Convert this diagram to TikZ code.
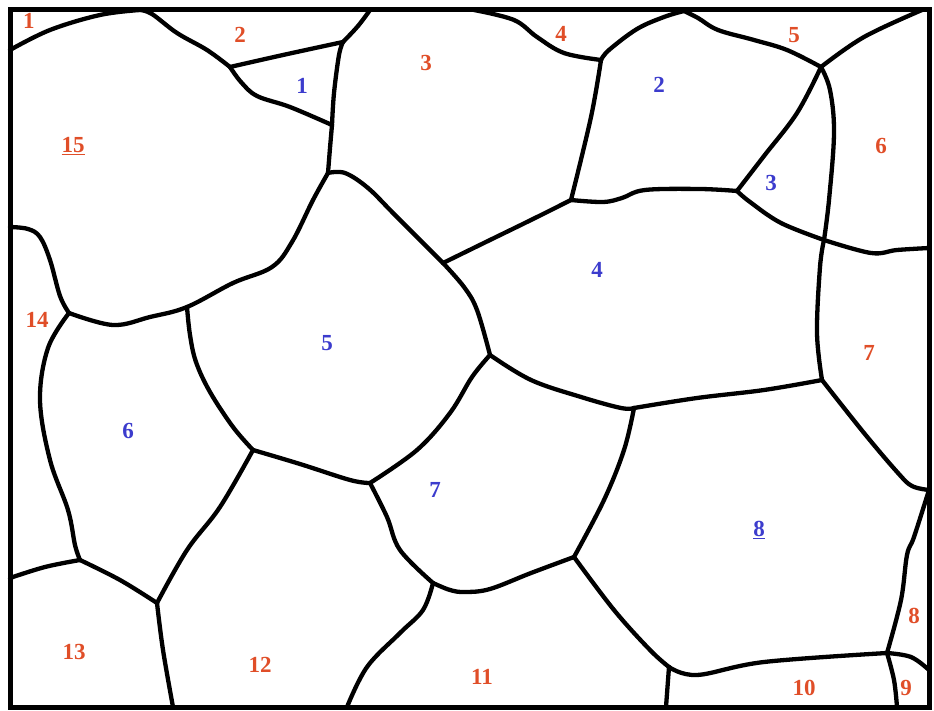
\documentclass[tikz,border=0pt]{standalone}
\usepackage{fontspec}
\setmainfont{Liberation Serif}
\definecolor{gred}{RGB}{224,78,40}
\definecolor{gblue}{RGB}{60,60,205}
\tikzset{
  gb/.style={line width=4.3pt, line join=round, line cap=round, black},
  frame/.style={line width=5pt, line join=miter, black},
  rlab/.style={text=gred, font=\fontsize{23}{23}\selectfont\bfseries, inner sep=0pt},
  blab/.style={text=gblue, font=\fontsize{23}{23}\selectfont\bfseries, inner sep=0pt},
  sm/.style={smooth, tension=0.6}
}
\begin{document}
\begin{tikzpicture}[x=1pt,y=-1pt]
\useasboundingbox (0,0) rectangle (934,711);
% junctions
\coordinate (L1) at (10,50);
\coordinate (J1) at (140,10);
\coordinate (J2) at (230,67);
\coordinate (J3) at (343,42);
\coordinate (J3t) at (370,10);
\coordinate (J4) at (332,125);
\coordinate (J5) at (328,173);
\coordinate (J6) at (69,313);
\coordinate (L14) at (10,227);
\coordinate (J7) at (443,263);
\coordinate (J8) at (571,200);
\coordinate (J9) at (601,60);
\coordinate (T4) at (474,10);
\coordinate (T5) at (684,11);
\coordinate (J10) at (821,67);
\coordinate (Ttr) at (922,10);
\coordinate (J11) at (737,191);
\coordinate (J12) at (824,240);
\coordinate (R1) at (929,248);
\coordinate (J13) at (490,355);
\coordinate (J14) at (634,408);
\coordinate (J15) at (822,380);
\coordinate (R2) at (929,490);
\coordinate (J16) at (887,653);
\coordinate (J17) at (574,557);
\coordinate (J18) at (669,667);
\coordinate (R3) at (929,670);
\coordinate (B9) at (897,707);
\coordinate (B10) at (666,707);
\coordinate (J19) at (187,307);
\coordinate (J20) at (253,450);
\coordinate (J21) at (157,603);
\coordinate (J22) at (80,560);
\coordinate (L13) at (10,578);
\coordinate (B12) at (173,707);
\coordinate (J23) at (370,483);
\coordinate (J24) at (433,583);
\coordinate (B11) at (347,707);
% boundaries
\draw[gb] plot[sm] coordinates {(L1) (50,30) (100,15) (J1)};
\draw[gb] plot[sm] coordinates {(J1) (152,14) (177,33) (207,50) (J2)};
\draw[gb] plot[sm] coordinates {(J2) (283,55) (J3)};
\draw[gb] plot[sm] coordinates {(J3) (358,26) (J3t)};
\draw[gb] plot[sm] coordinates {(J2) (241,82) (257,96) (290,107) (J4)};
\draw[gb] plot[sm] coordinates {(J3) (339,55) (334,93) (J4)};
\draw[gb] plot[sm] coordinates {(J4) (330,148) (J5)};
\draw[gb] plot[sm] coordinates {(J5) (313,200) (292,242) (272,267) (233,283) (J19) (150,317) (113,325) (J6)};
\draw[gb] plot[sm] coordinates {(J6) (60,296) (50,260) (40,237) (28,229) (L14)};
\draw[gb] plot[sm] coordinates {(J6) (48,348) (40,400) (50,460) (68,510) (75,545) (J22)};
\draw[gb] plot[sm] coordinates {(J22) (45,567) (L13)};
\draw[gb] plot[sm] coordinates {(J22) (120,580) (J21)};
\draw[gb] plot[sm] coordinates {(J21) (163,650) (B12)};
\draw[gb] plot[sm] coordinates {(J21) (187,550) (220,507) (J20)};
\draw[gb] plot[sm] coordinates {(J19) (190,335) (196,362) (210,392) (233,427) (J20)};
\draw[gb] plot[sm] coordinates {(J20) (300,464) (350,480) (J23)};
\draw[gb] plot[sm] coordinates {(J23) (417,450) (450,413) (472,377) (J13)};
\draw[gb] plot[sm] coordinates {(J5) (345,173) (368,188) (395,215) (J7)};
\draw[gb] plot[sm] coordinates {(J7) (464,287) (477,310) (J13)};
\draw[gb] plot[sm] coordinates {(J7) (490,240) (531,220) (J8)};
\draw[gb] plot[sm] coordinates {(J8) (591,117) (J9)};
\draw[gb] plot[sm] coordinates {(J9) (564,53) (537,37) (514,20) (T4)};
\draw[gb] plot[sm] coordinates {(J9) (609,50) (637,29) (664,17) (T5)};
\draw[gb] plot[sm] coordinates {(T5) (698,18) (718,30) (754,40) (787,50) (J10)};
\draw[gb] plot[sm] coordinates {(J10) (864,37) (Ttr)};
\draw[gb] plot[sm] coordinates {(J8) (603,202) (622,198) (645,190) (700,189) (J11)};
\draw[gb] plot[sm] coordinates {(J11) (764,156) (797,113) (J10)};
\draw[gb] plot[sm] coordinates {(J11) (750,202) (781,223) (J12)};
\draw[gb] plot[sm] coordinates {(J10) (830,90) (834,133) (829,200) (J12)};
\draw[gb] plot[sm] coordinates {(J12) (871,253) (897,250) (R1)};
\draw[gb] plot[sm] coordinates {(J12) (820,267) (817,333) (J15)};
\draw[gb] plot[sm] coordinates {(J13) (531,380) (581,397) (621,408) (J14)};
\draw[gb] plot[sm] coordinates {(J14) (697,398) (764,390) (J15)};
\draw[gb] plot[sm] coordinates {(J15) (864,433) (898,473) (912,486) (R2)};
\draw[gb] plot[sm] coordinates {(R2) (914,537) (907,555) (901,600) (J16)};
\draw[gb] plot[sm] coordinates {(J14) (624,450) (604,500) (J17)};
\draw[gb] plot[sm] coordinates {(J17) (531,573) (490,589) (465,592) (450,590) (J24)};
\draw[gb] plot[sm] coordinates {(J17) (614,610) (650,650) (J18)};
\draw[gb] plot[sm] coordinates {(J18) (B10)};
\draw[gb] plot[sm] coordinates {(J18) (697,675) (764,662) (J16)};
\draw[gb] plot[sm] coordinates {(J16) (911,657) (R3)};
\draw[gb] plot[sm] coordinates {(J16) (894,680) (B9)};
\draw[gb] plot[sm] coordinates {(J23) (387,517) (400,550) (J24)};
\draw[gb] plot[sm] coordinates {(J24) (423,610) (400,633) (367,667) (B11)};
% frame
\draw[frame] (10,10) rectangle (929,707);
% labels red
\node[rlab] (r1) at (29,21) {1};
\node[rlab] (r2) at (240,35) {2};
\node[rlab] (r3) at (426,63) {3};
\node[rlab] (r4) at (561,34) {4};
\node[rlab] (r5) at (794,35) {5};
\node[rlab] (r6) at (881,146) {6};
\node[rlab] (r7) at (869,353) {7};
\node[rlab] (r8) at (914,616) {8};
\node[rlab] (r9) at (906,688) {9};
\node[rlab] (r10) at (804,688) {10};
\node[rlab] (r11) at (482,677) {11};
\node[rlab] (r12) at (260,665) {12};
\node[rlab] (r13) at (74,652) {13};
\node[rlab] (r14) at (37,320) {14};
\node[rlab] (r15) at (73,146) {\underline{15}};
% labels blue
\node[blab] (b1) at (302,86) {1};
\node[blab] (b2) at (659,85) {2};
\node[blab] (b3) at (771,183) {3};
\node[blab] (b4) at (597,270) {4};
\node[blab] (b5) at (327,343) {5};
\node[blab] (b6) at (128,431) {6};
\node[blab] (b7) at (435,490) {7};
\node[blab] (b8) at (759,530) {\underline{8}};
\end{tikzpicture}
\end{document}
